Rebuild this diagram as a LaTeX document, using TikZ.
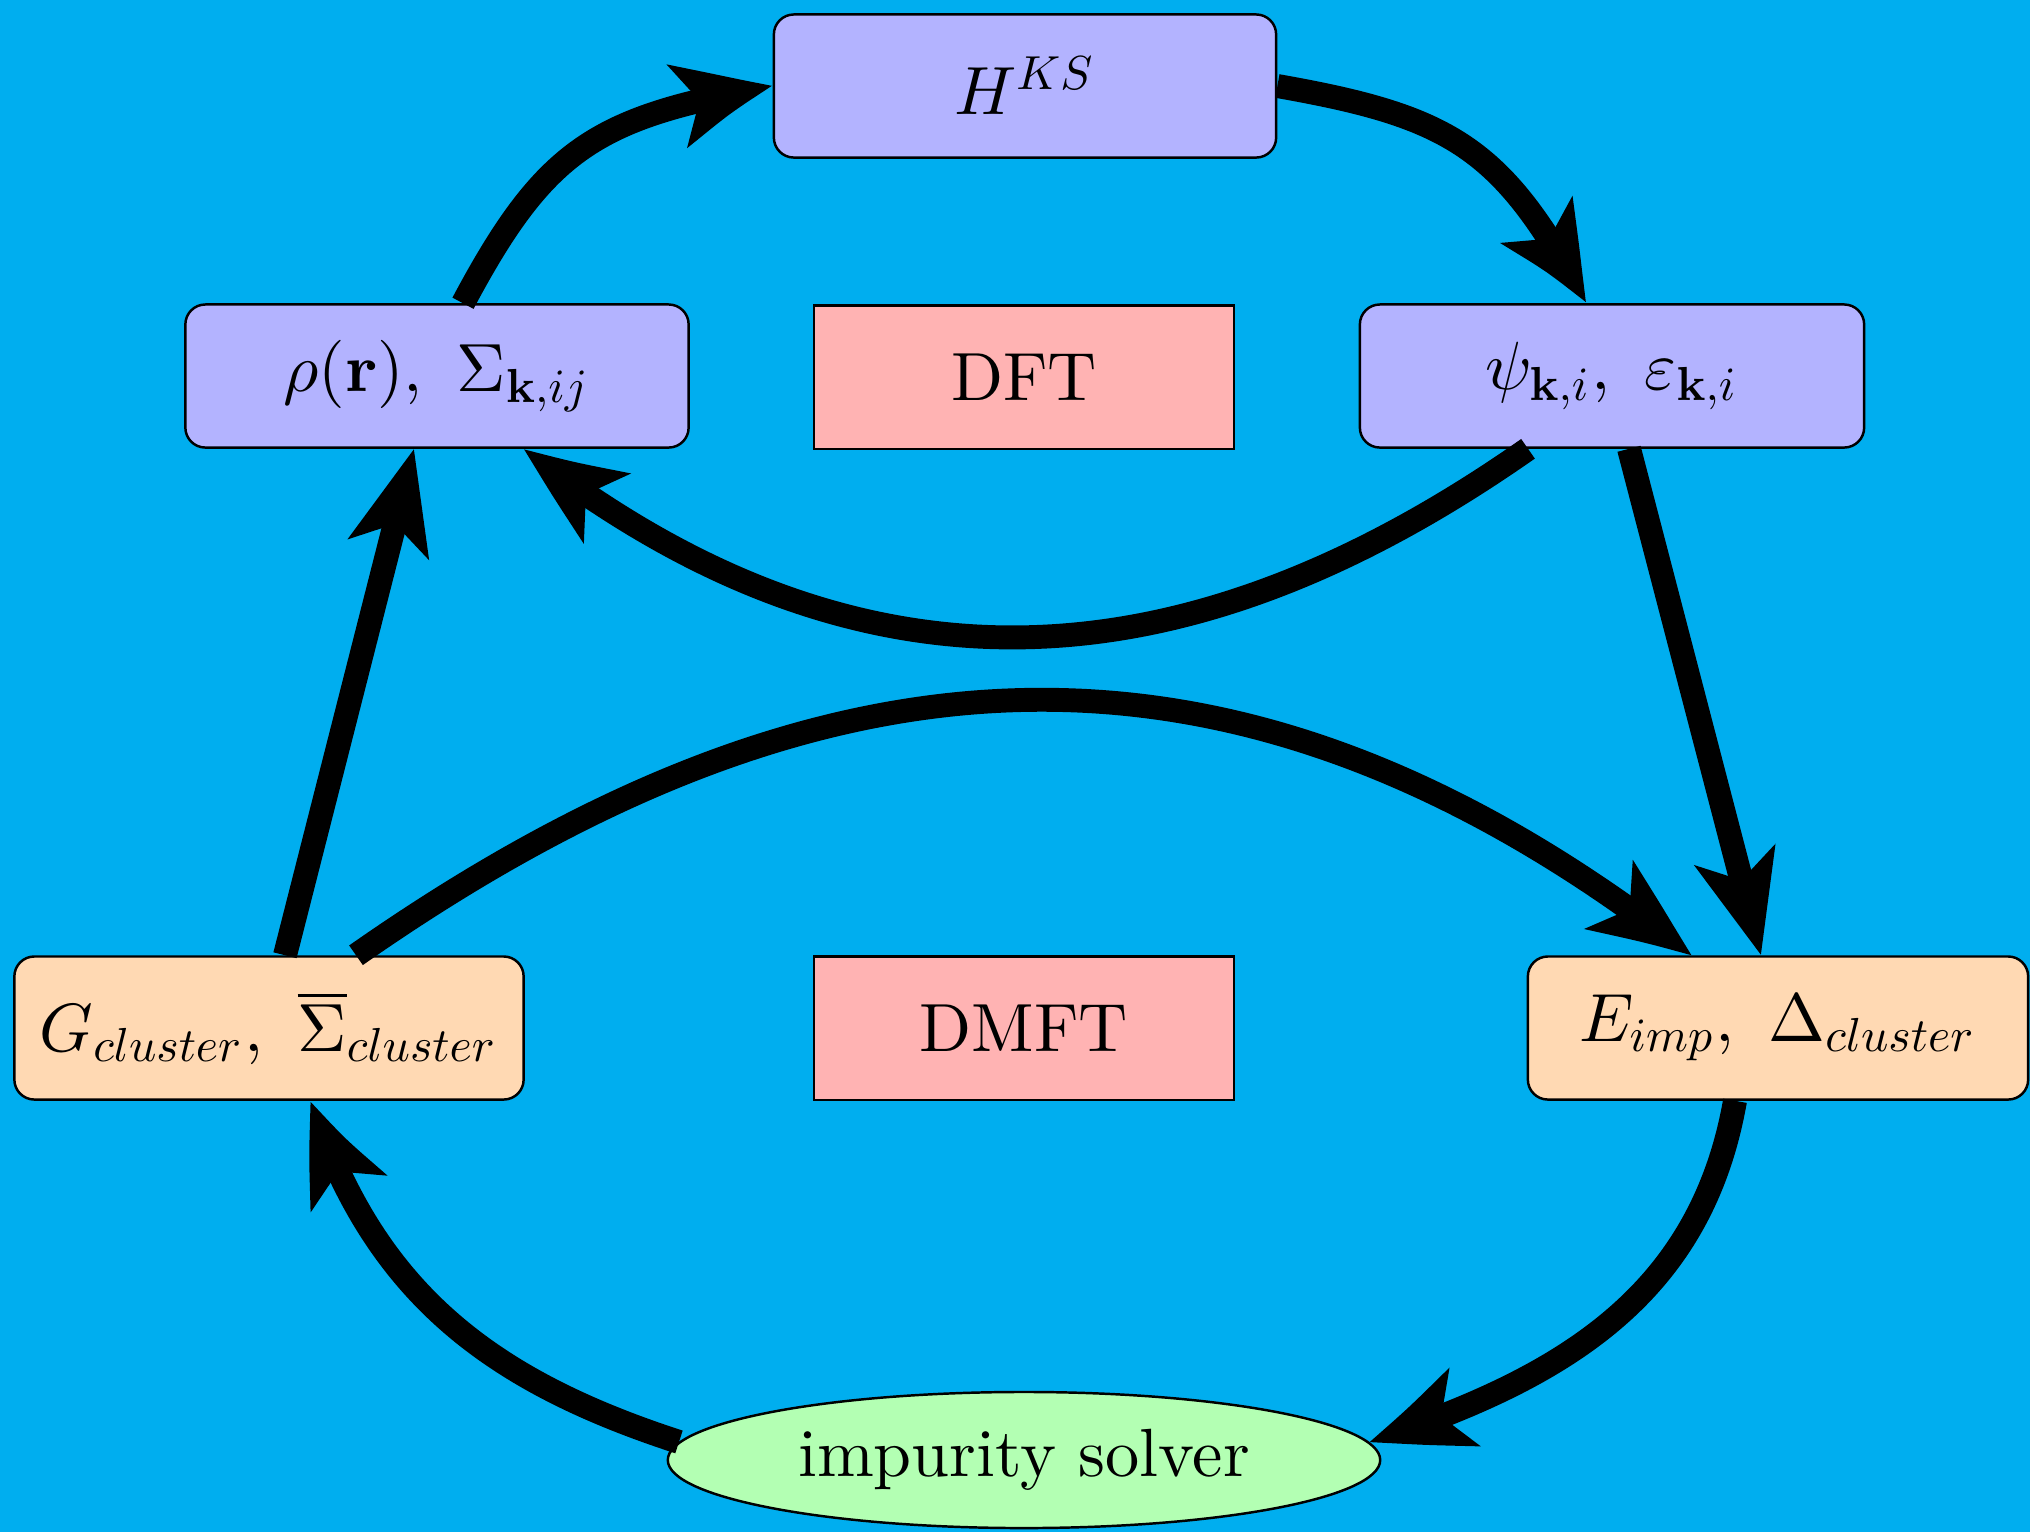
\documentclass[tikz,border=0pt]{standalone}
\usepackage{graphicx}
\usetikzlibrary{arrows.meta,bending,shapes.geometric,calc}
\DeclareFontShape{OML}{cmm}{m}{it}{<->cmmi10}{\skewchar\font=127}
\DeclareFontShape{OT1}{cmr}{m}{n}{<->cmr10}{}
\DeclareFontShape{OT1}{cmr}{bx}{n}{<->cmbx10}{}
\DeclareFontShape{OMS}{cmsy}{m}{n}{<->cmsy10}{\skewchar\font=48}
\definecolor{bgcyan}{RGB}{0,174,239}
\definecolor{boxblue}{RGB}{179,179,255}
\definecolor{boxpink}{RGB}{255,179,179}
\definecolor{boxorange}{RGB}{255,217,179}
\definecolor{boxgreen}{RGB}{179,255,179}
\newcommand{\mytxt}[1]{\scalebox{1.94}{#1}}
\tikzset{
  rbox/.style={draw=black, line width=0.7pt, rounded corners=0.2cm, minimum height=1.43cm, inner sep=0pt},
  bluebox/.style={rbox, fill=boxblue},
  orangebox/.style={rbox, fill=boxorange},
  pinkbox/.style={draw=black, line width=0.6pt, fill=boxpink, minimum width=4.2cm, minimum height=1.43cm, inner sep=0pt},
  solver/.style={ellipse, draw=black, line width=0.7pt, fill=boxgreen, minimum width=7.12cm, minimum height=1.36cm, inner sep=0pt},
  arr/.style={line width=6.8pt, -{Stealth[length=29pt,width=23pt,inset=7pt,bend]}}
}
\begin{document}
\begin{tikzpicture}[x=0.01cm,y=0.01cm]
\useasboundingbox (0,0) rectangle (2030,-1532);
\fill[bgcyan] (0,0) rectangle (2030,-1532);

\node[bluebox, minimum width=5.02cm] (H) at (1025,-86) {\mytxt{$H^{KS}$}};
\node[bluebox, minimum width=5.03cm] (rho) at (437,-376) {\mytxt{$\rho(\mathbf{r}),\ \Sigma_{\mathbf{k},ij}$}};
\node[bluebox, minimum width=5.04cm] (psi) at (1612,-376) {\mytxt{$\psi_{\mathbf{k},i},\ \varepsilon_{\mathbf{k},i}$}};
\node[pinkbox] (dft) at (1024,-377) {\mytxt{DFT}};
\node[orangebox, minimum width=5.09cm] (G) at (269,-1028) {\mytxt{$G_{cluster},\ \overline{\Sigma}_{cluster}$}};
\node[pinkbox] (dmft) at (1024,-1028) {\mytxt{DMFT}};
\node[orangebox, minimum width=5.0cm] (E) at (1778,-1028) {\mytxt{$E_{imp},\ \Delta_{cluster}$}};
\node[solver] (imp) at (1024,-1460) {\mytxt{impurity solver}};

\draw[arr] ($(rho.north)+(26,0)$) to[out=62,in=190,looseness=1.2] (H.west);
\draw[arr] (H.east) to[out=-10,in=118,looseness=1.2] ($(psi.north)+(-26,0)$);
\draw[arr] ($(psi.south)+(-84,0)$) to[out=-145,in=-38,looseness=1.08] ($(rho.south)+(87,0)$);
\draw[arr] ($(psi.south)+(17,0)$) -- ($(E.north)+(-17,0)$);
\draw[arr] ($(G.north)+(87,0)$) to[out=35,in=142,looseness=1.1] ($(E.north)+(-87,0)$);
\draw[arr] ($(G.north)+(16,0)$) -- ($(rho.south)+(-23,0)$);
\draw[arr] ($(E.south)+(-43,0)$) to[out=-100,in=18,looseness=1.02] (imp.3);
\draw[arr] (imp.177) to[out=162,in=-72,looseness=1.02] ($(G.south)+(42,0)$);
\end{tikzpicture}
\end{document}
